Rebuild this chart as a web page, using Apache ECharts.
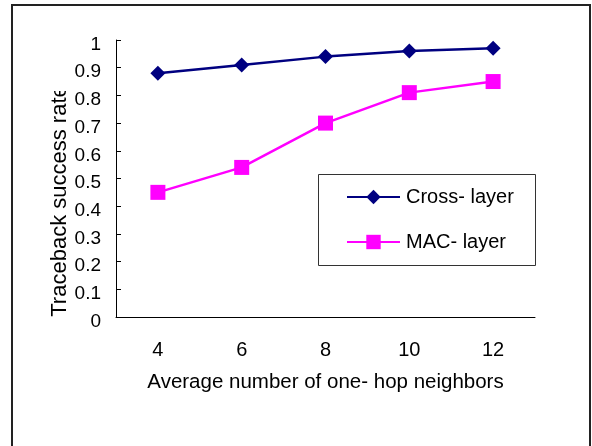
<!DOCTYPE html>
<html>
<head>
<meta charset="utf-8">
<script src="https://cdn.jsdelivr.net/npm/echarts@6/dist/echarts.min.js"></script>
<style>
  html, body { margin: 0; padding: 0; background: #fff; }
  #chart { width: 592px; height: 446px; }
</style>
</head>
<body>
<div id="chart"></div>
<script>
// Average number of one-hop neighbors
const neighbors = ['4', '6', '8', '10', '12'];
// Traceback success rate per scheme
const crossLayer = [0.88, 0.91, 0.94, 0.96, 0.97];
const macLayer = [0.45, 0.54, 0.70, 0.81, 0.85];

const FONT = '"Liberation Sans", Arial, sans-serif';

const chart = echarts.init(document.getElementById('chart'), null, { renderer: 'canvas' });

chart.setOption({
  animation: false,
  backgroundColor: '#ffffff',
  grid: { left: 116, right: 57, top: 40, bottom: 129, containLabel: false },
  xAxis: {
    type: 'category',
    data: neighbors,
    boundaryGap: true,
    name: 'Average number of one- hop neighbors',
    nameLocation: 'middle',
    nameGap: 55,
    nameTextStyle: { fontFamily: FONT, fontSize: 20.5, color: '#000' },
    axisLine: { lineStyle: { color: '#000', width: 1 } },
    axisTick: { inside: true, length: 6, alignWithLabel: false, lineStyle: { color: '#000' } },
    axisLabel: { fontFamily: FONT, fontSize: 20, color: '#000', margin: 23 },
    splitLine: { show: false }
  },
  yAxis: {
    type: 'value',
    min: 0,
    max: 1,
    interval: 0.1,
    name: 'Traceback success rate',
    nameLocation: 'middle',
    nameMoveOverlap: false,
    nameGap: 45,
    nameTextStyle: { fontFamily: FONT, fontSize: 22, color: '#000', padding: [0, 45, 0, 0] },
    axisLine: { show: true, lineStyle: { color: '#000', width: 1 } },
    axisTick: { show: true, inside: true, length: 5, lineStyle: { color: '#000' } },
    axisLabel: {
      fontFamily: FONT, fontSize: 19, color: '#000', margin: 15,
      verticalAlign: 'top',
      lineHeight: 9,
      formatter: v => String(Math.round(v * 10) / 10)
    },
    splitLine: { show: false }
  },
  legend: {
    orient: 'vertical',
    left: 346,
    top: 187,
    padding: 0,
    itemWidth: 53,
    itemHeight: 18,
    itemGap: 25,
    textStyle: { fontFamily: FONT, fontSize: 20, color: '#000', padding: [0, 0, 0, 1] },
    data: ['Cross- layer', 'MAC- layer']
  },
  series: [
    {
      name: 'Cross- layer',
      type: 'line',
      data: crossLayer,
      symbol: 'diamond',
      symbolSize: [15, 15],
      showAllSymbol: true,
      lineStyle: { color: '#000080', width: 2.5 },
      itemStyle: { color: '#000080' }
    },
    {
      name: 'MAC- layer',
      type: 'line',
      data: macLayer,
      symbol: 'rect',
      symbolSize: [15, 15],
      showAllSymbol: true,
      lineStyle: { color: '#ff00ff', width: 2.5 },
      itemStyle: { color: '#ff00ff' }
    }
  ],
  graphic: [
    // outer frame around the whole figure
    {
      type: 'rect',
      shape: { x: 12, y: 5, width: 578, height: 470 },
      style: { fill: 'none', stroke: '#222', lineWidth: 2 },
      z: 100
    },
    // legend box
    {
      type: 'rect',
      shape: { x: 318.5, y: 174.5, width: 217, height: 91 },
      style: { fill: 'none', stroke: '#333', lineWidth: 1 },
      z: 100
    },
    // the axis title box is narrower than its text, so the top end is cut off
    {
      type: 'rect',
      shape: { x: 40, y: 40, width: 34, height: 51 },
      style: { fill: '#ffffff' },
      z: 99
    }
  ]
});
</script>
</body>
</html>
